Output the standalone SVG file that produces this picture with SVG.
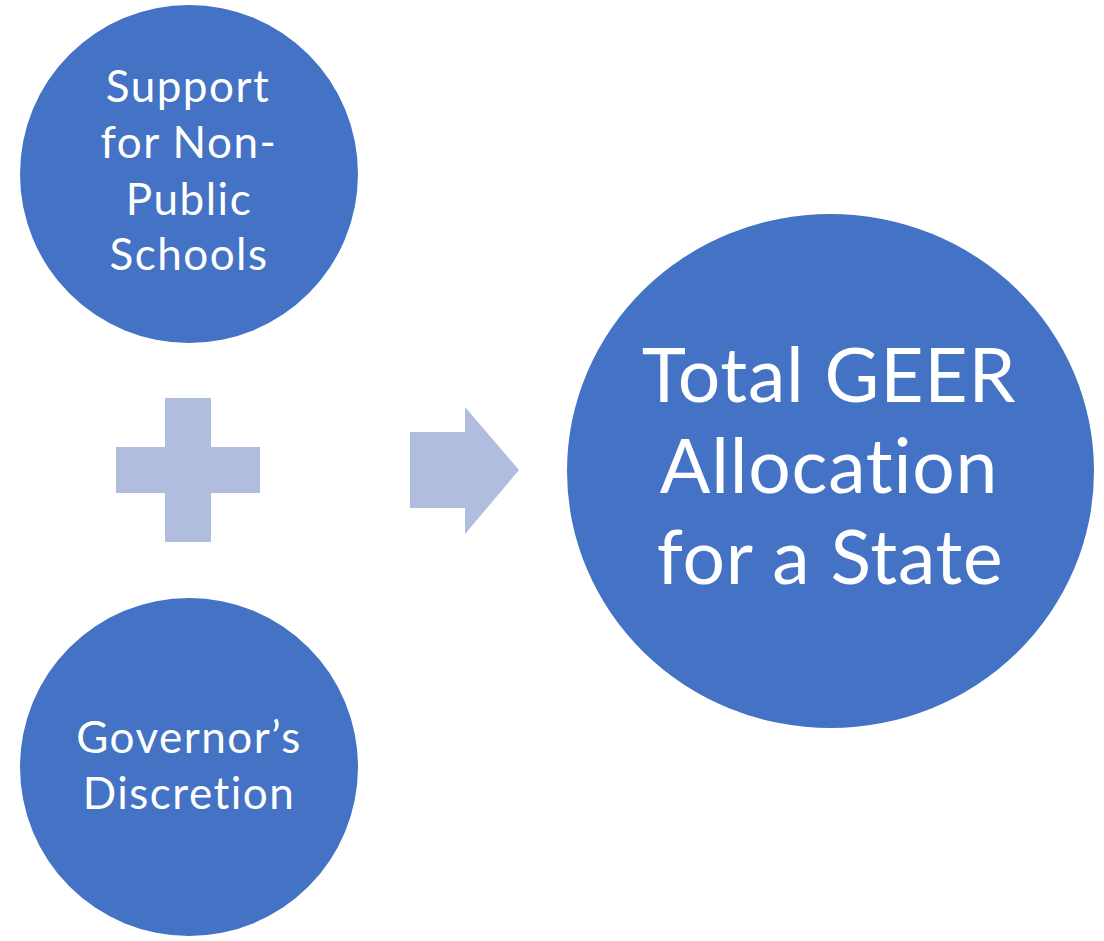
<svg xmlns="http://www.w3.org/2000/svg" width="1104" height="941" viewBox="0 0 1104 941">
<style>
.node{fill:#4472C4}
.lbl{fill:#fff;font-family:Lato,"Liberation Sans",sans-serif;text-anchor:middle;font-variant-ligatures:none;font-feature-settings:"liga" 0}
.sm{font-size:44px;letter-spacing:1.5px}
.lg{font-size:75px;letter-spacing:0.8px}
.sym{fill:#B0BDDF}
</style>
<rect width="1104" height="941" fill="#fff"/>
<g id="support">
<circle class="node" cx="189" cy="174" r="169"/>
<text class="lbl sm"><tspan x="188" y="102">Support</tspan><tspan x="189" y="158">for Non-</tspan><tspan x="189" y="215">Public</tspan><tspan x="189" y="270">Schools</tspan></text>
</g>
<g id="governor">
<circle class="node" cx="189" cy="767" r="169"/>
<text class="lbl sm"><tspan x="189" y="753">Governor’s</tspan><tspan x="189" y="809">Discretion</tspan></text>
</g>
<g id="total">
<ellipse class="node" cx="830.5" cy="471" rx="263.5" ry="257"/>
<text class="lbl lg"><tspan x="829" y="402">Total GEER</tspan><tspan x="829" y="493">Allocation</tspan><tspan x="830" y="584">for a State</tspan></text>
</g>
<g id="connectors">
<path id="plus" class="sym" d="M165 398H211V447H260V493H211V542H165V493H116V447H165Z"/>
<path id="arrow" class="sym" d="M410 432H465V407L519 470L465 534V508H410Z"/>
</g>
</svg>
